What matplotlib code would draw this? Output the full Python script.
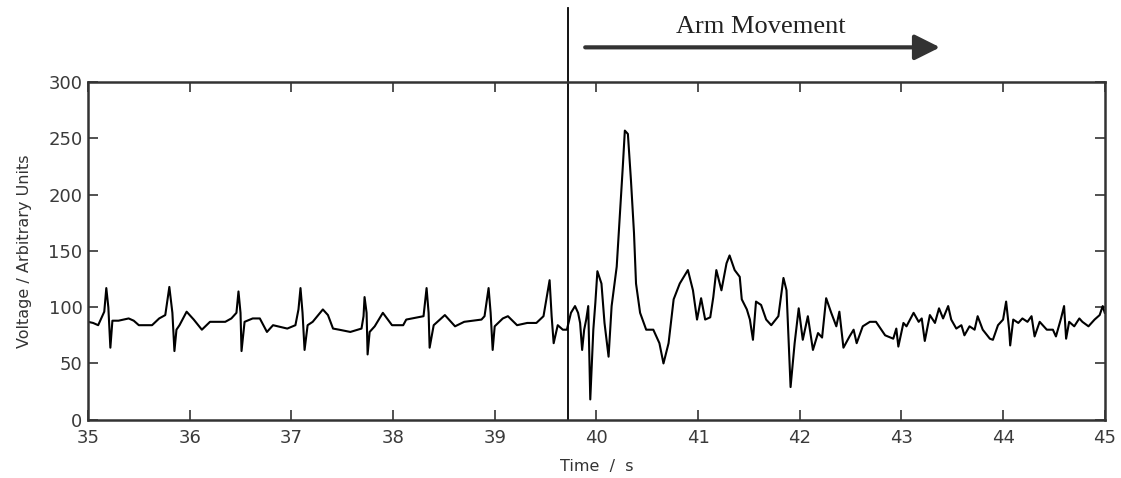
import matplotlib
matplotlib.use("Agg")
import matplotlib.pyplot as plt

# ---- data (time in s, voltage in arbitrary units) ----
time_s = [
    35.00, 35.05, 35.10, 35.16, 35.18, 35.20, 35.22, 35.24, 35.30, 35.40,
    35.45, 35.50, 35.63, 35.70, 35.76, 35.80, 35.83, 35.85, 35.87, 35.90,
    35.97, 36.04, 36.12, 36.20, 36.35, 36.41, 36.46, 36.48, 36.50, 36.51,
    36.54, 36.62, 36.69, 36.76, 36.82, 36.96, 37.04, 37.07, 37.09, 37.11,
    37.13, 37.16, 37.21, 37.31, 37.36, 37.41, 37.47, 37.58, 37.69, 37.71,
    37.72, 37.74, 37.75, 37.77, 37.82, 37.90, 37.99, 38.10, 38.13, 38.30,
    38.33, 38.35, 38.36, 38.40, 38.51, 38.61, 38.70, 38.87, 38.90, 38.94,
    38.96, 38.98, 39.00, 39.08, 39.13, 39.22, 39.32, 39.41, 39.48, 39.54,
    39.56, 39.58, 39.62, 39.67, 39.71, 39.75, 39.79, 39.82, 39.84, 39.86,
    39.88, 39.90, 39.92, 39.94, 39.97, 39.99, 40.01, 40.05, 40.08, 40.12,
    40.15, 40.20, 40.23, 40.26, 40.28, 40.31, 40.34, 40.37, 40.39, 40.43,
    40.49, 40.56, 40.62, 40.66, 40.71, 40.76, 40.82, 40.90, 40.95, 40.99,
    41.03, 41.07, 41.12, 41.15, 41.18, 41.23, 41.28, 41.31, 41.36, 41.41,
    41.43, 41.48, 41.51, 41.54, 41.57, 41.62, 41.67, 41.72, 41.79, 41.84,
    41.87, 41.90, 41.91, 41.95, 41.99, 42.03, 42.08, 42.13, 42.18, 42.22,
    42.26, 42.31, 42.36, 42.39, 42.43, 42.49, 42.53, 42.56, 42.62, 42.69,
    42.75, 42.84, 42.92, 42.95, 42.97, 43.02, 43.05, 43.12, 43.17, 43.20,
    43.23, 43.28, 43.33, 43.37, 43.41, 43.46, 43.49, 43.54, 43.59, 43.62,
    43.67, 43.72, 43.75, 43.80, 43.87, 43.90, 43.95, 44.00, 44.03, 44.06,
    44.07, 44.10, 44.15, 44.19, 44.24, 44.28, 44.31, 44.36, 44.43, 44.49,
    44.52, 44.57, 44.60, 44.62, 44.65, 44.70, 44.75, 44.78, 44.84, 44.90,
    44.95, 44.98, 45.00,
]
voltage = [
    87, 86, 84, 96, 117, 100, 64, 88, 88, 90,
    88, 84, 84, 90, 93, 118, 95, 61, 80, 84,
    96, 89, 80, 87, 87, 90, 95, 114, 95, 61,
    87, 90, 90, 78, 84, 81, 84, 98, 117, 95,
    62, 84, 87, 98, 93, 81, 80, 78, 81, 92,
    109, 95, 58, 78, 83, 95, 84, 84, 89, 92,
    117, 95, 64, 84, 93, 83, 87, 89, 92, 117,
    95, 62, 83, 90, 92, 84, 86, 86, 92, 124,
    92, 68, 84, 80, 80, 95, 101, 95, 86, 62,
    80, 89, 101, 18, 80, 104, 132, 121, 86, 56,
    101, 136, 180, 225, 257, 254, 213, 166, 121, 95,
    80, 80, 68, 50, 68, 107, 121, 133, 115, 89,
    108, 89, 91, 109, 133, 115, 139, 146, 133, 127,
    107, 98, 89, 71, 105, 102, 89, 84, 92, 126,
    115, 50, 29, 68, 99, 71, 92, 62, 77, 73,
    108, 95, 83, 96, 64, 74, 80, 68, 83, 87,
    87, 75, 72, 81, 65, 86, 83, 95, 87, 90,
    70, 93, 86, 99, 90, 101, 89, 81, 84, 75,
    83, 80, 92, 80, 72, 71, 84, 89, 105, 80,
    66, 89, 86, 90, 87, 92, 74, 87, 80, 80,
    74, 90, 101, 72, 87, 83, 90, 87, 83, 89,
    93, 101, 95,
]

x_ticks = [35, 36, 37, 38, 39, 40, 41, 42, 43, 44, 45]
y_ticks = [0, 50, 100, 150, 200, 250, 300]

movement_start = 39.72
arrow_from, arrow_to = 39.89, 43.38
label_text = "Arm Movement"

fig = plt.figure(figsize=(11.21, 4.78), dpi=100)
ax = fig.add_axes([0.0785, 0.122, 0.907, 0.706])

ax.plot(time_s, voltage, color="black", lw=1.5)

# marker line at the start of the movement, runs up past the axes
ax.plot([movement_start, movement_start], [0, 366], color="black", lw=1.3, clip_on=False)

ax.annotate("", xy=(arrow_to, 331), xytext=(arrow_from, 331),
            arrowprops=dict(arrowstyle="-|>,head_length=0.7,head_width=0.35", lw=3,
                            color="#333333", mutation_scale=22, shrinkA=0, shrinkB=0),
            annotation_clip=False)
ax.text(41.62, 343.5, label_text, ha="center", va="baseline", fontsize=19,
        family="Liberation Serif", color="#222222", clip_on=False)

ax.set_xlim(35, 45)
ax.set_ylim(0, 300)
ax.set_xticks(x_ticks)
ax.set_yticks(y_ticks)
ax.tick_params(direction="in", top=True, right=True, length=7, width=1.2,
               labelsize=13, labelcolor="#3a3a3a", color="#333333")
ax.tick_params(axis="x", pad=7)
ax.tick_params(axis="y", pad=4)
for lbl in ax.get_xticklabels() + ax.get_yticklabels():
    lbl.set_family("DejaVu Sans")
for sp in ax.spines.values():
    sp.set_linewidth(1.8)
    sp.set_color("#333333")

ax.set_xlabel("Time  /  s", fontsize=11.5, family="DejaVu Sans", color="#333333", labelpad=8)
ax.set_ylabel("Voltage / Arbitrary Units", fontsize=11.5, family="DejaVu Sans",
              color="#333333", labelpad=12)

fig.savefig("out.png", dpi=100)
